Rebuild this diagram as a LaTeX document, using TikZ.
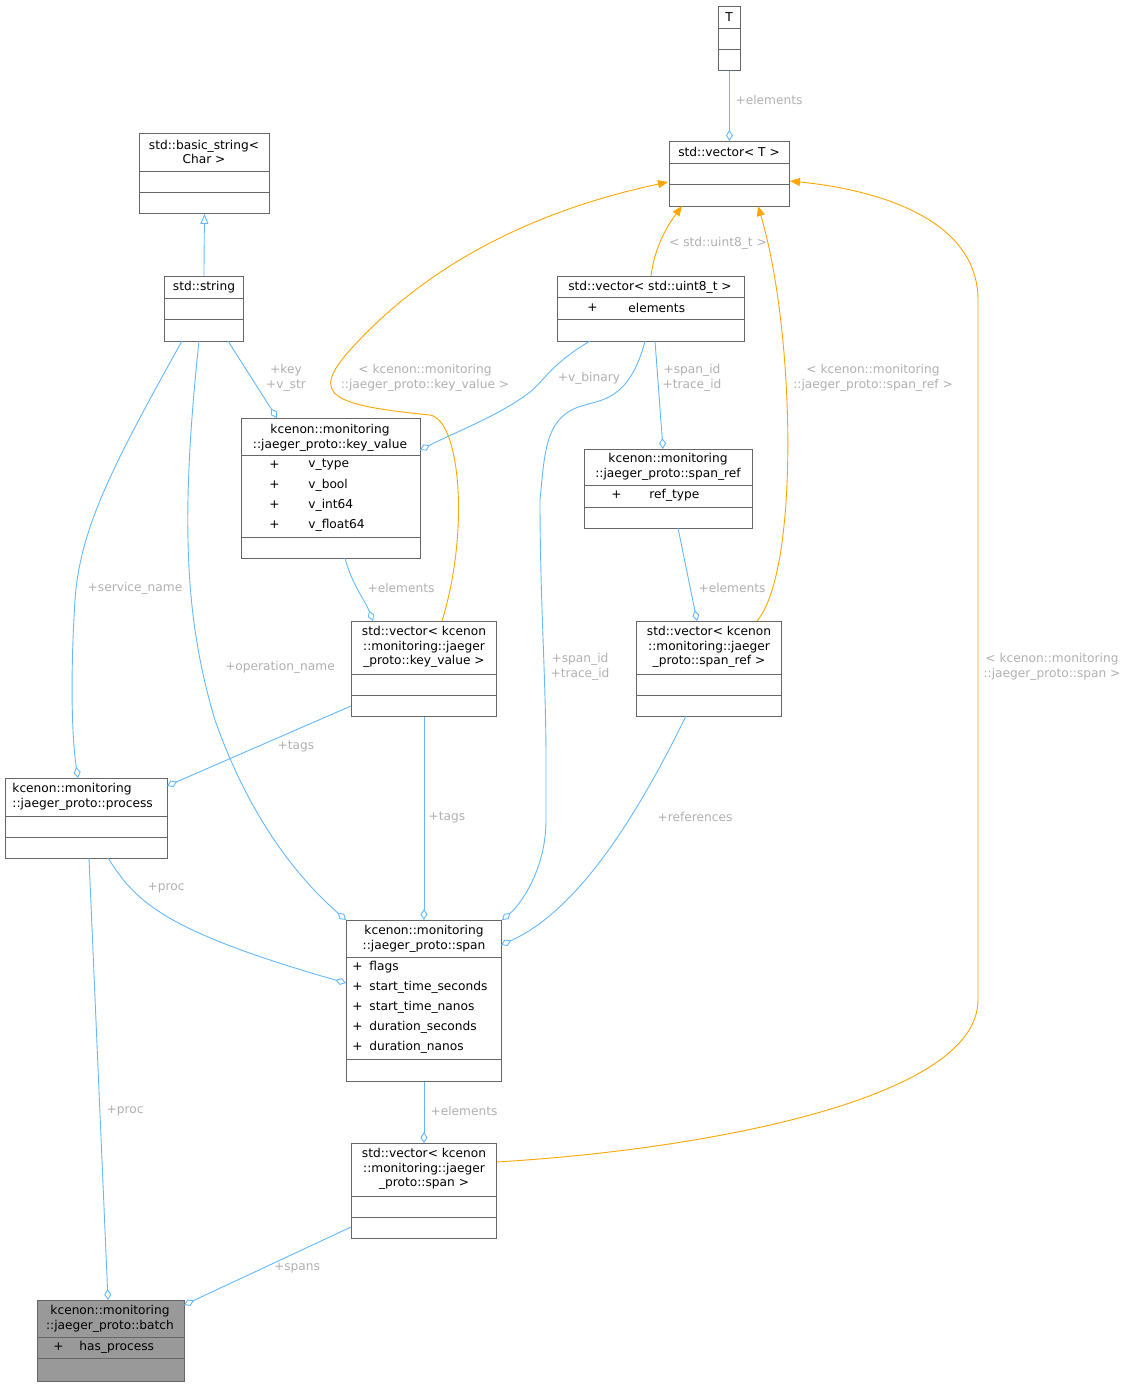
\documentclass[tikz,border=0pt]{standalone}
\usepackage{fontspec}
\setmainfont{DejaVu Sans}
\usetikzlibrary{arrows.meta}
\definecolor{boxc}{HTML}{666666}
\definecolor{edge}{HTML}{63B8FF}
\definecolor{inh}{HTML}{FFA500}
\definecolor{lbl}{HTML}{B0B0B0}
\newcommand\ubox[8]{%
 \node[draw=boxc,fill=#8,inner sep=0,anchor=north west,minimum width={(#4-#2)*1pt},minimum height={(#5-#3)*1pt}] (#1) at (#2,#3) {};
 \draw[boxc] (#2,#6) -- (#4,#6);
 \draw[boxc] (#2,#7) -- (#4,#7);}
\begin{document}
\begin{tikzpicture}[x=1pt,y=-1pt,line width=0.9pt,
 every node/.style={font=\fontsize{12.2}{14.5}\selectfont},
 t/.style={align=center,inner sep=0},
 a/.style={anchor=west,inner sep=0},
 lb/.style={text=lbl,align=center,inner sep=1pt},
 ag/.style={draw=edge,-{Diamond[open,length=11,width=7]}},
 og/.style={draw=inh,-{Triangle[length=10,width=8]},fill=none},
 ih/.style={draw=edge,-{Triangle[open,length=10,width=8]}}]
\path[use as bounding box] (0,0) rectangle (1129,1387);
% boxes
\ubox{T}{718}{6}{740}{70}{28}{49}{white}
\node[t] at (729,17) {T};
\ubox{vecT}{669}{141}{789}{206}{163}{184}{white}
\node[t] at (729,152) {std::vector< T >};
\ubox{bstr}{139}{133}{269}{213}{171}{192}{white}
\node[t] at (204,152) {std::basic\_string<\\Char >};
\ubox{str}{164}{276}{243}{341}{298}{319}{white}
\node[t] at (204,287) {std::string};
\ubox{vu8}{557}{276}{744}{341}{297}{319}{white}
\node[t] at (650,287) {std::vector< std::uint8\_t >};
\node[a] at (587,308) {+}; \node[a] at (628,308) {elements};
\ubox{kv}{241}{418}{420}{558}{455}{537}{white}
\node[t] at (330,438) {kcenon::monitoring\\::jaeger\_proto::key\_value};
\foreach \n[count=\i] in {v\_type,v\_bool,v\_int64,v\_float64}{
 \node[a] at (269,445+\i*20) {+}; \node[a] at (308,445+\i*20) {\n};}
\ubox{sr}{584}{449}{752}{528}{485}{507}{white}
\node[t] at (668,467) {kcenon::monitoring\\::jaeger\_proto::span\_ref};
\node[a] at (611,495) {+}; \node[a] at (649,495) {ref\_type};
\ubox{vkv}{351}{621}{496}{716}{674}{695}{white}
\node[t] at (424,647) {std::vector< kcenon\\::monitoring::jaeger\\\_proto::key\_value >};
\ubox{vsr}{636}{621}{781}{716}{674}{695}{white}
\node[t] at (709,647) {std::vector< kcenon\\::monitoring::jaeger\\\_proto::span\_ref >};
\ubox{proc}{5}{778}{167}{858}{816}{837}{white}
\node[t,align=left,anchor=west] at (12,797) {kcenon::monitoring\\::jaeger\_proto::process};
\ubox{span}{346}{920}{501}{1081}{957}{1059}{white}
\node[t] at (424,939) {kcenon::monitoring\\::jaeger\_proto::span};
\foreach \n[count=\i] in {flags,start\_time\_seconds,start\_time\_nanos,duration\_seconds,duration\_nanos}{
 \node[a] at (352,947+\i*20) {+}; \node[a] at (369,947+\i*20) {\n};}
\ubox{vsp}{351}{1143}{496}{1238}{1196}{1217}{white}
\node[t] at (424,1169) {std::vector< kcenon\\::monitoring::jaeger\\\_proto::span >};
\ubox{batch}{37}{1300}{184}{1381}{1337}{1358}{black!40}
\node[t] at (110,1319) {kcenon::monitoring\\::jaeger\_proto::batch};
\node[a] at (53,1347) {+}; \node[a] at (79,1347) {has\_process};
% edges
\draw[ag] (T.south) -- (vecT.north); \node[lb] at (769,100) {+elements};
\draw[ih] (str.north) -- (bstr.south);
\draw[og] (651,276) .. controls (655,245) and (668,225) .. (682,206);
\node[lb] at (718,243) {< std::uint8\_t >};
\draw[og] (757,621) .. controls (800,570) and (795,330) .. (758,206);
\node[lb] at (873,378) {< kcenon::monitoring\\::jaeger\_proto::span\_ref >};
\draw[og] (442,621) .. controls (470,530) and (460,420) .. (430,415) .. controls (330,405) and (310,395) .. (350,350) .. controls (440,250) and (560,205) .. (668,182);
\node[lb] at (425,378) {< kcenon::monitoring\\::jaeger\_proto::key\_value >};
\draw[og] (vsp.east) ++(0,-29) coordinate (vspe) (vspe) .. controls (700,1150) and (978,1100) .. (978,1000) -- (978,300) .. controls (978,220) and (880,190) .. (790,181);
\node[lb] at (1052,667) {< kcenon::monitoring\\::jaeger\_proto::span >};
\draw[ag] (228,341) -- (277,418); \node[lb] at (286,378) {+key\\+v\_str};
\draw[ag] (590,341) .. controls (550,365) and (545,380) .. (530,392) .. controls (500,415) and (460,430) .. (420,450);
\node[lb] at (589,378) {+v\_binary};
\draw[ag] (655,341) -- (663,449); \node[lb] at (692,378) {+span\_id\\+trace\_id};
\draw[ag] (645,341) .. controls (630,400) and (600,400) .. (585,405) .. controls (545,415) and (545,450) .. (540,500) .. controls (540,600) and (546,680) .. (546,760) -- (546,820) .. controls (546,870) and (520,905) .. (502,920);
\node[lb] at (580,667) {+span\_id\\+trace\_id};
\draw[ag] (345,558) .. controls (352,585) and (365,600) .. (373,621); \node[lb] at (401,588) {+elements};
\draw[ag] (678,528) -- (697,621); \node[lb] at (732,588) {+elements};
\draw[ag] (182,341) .. controls (110,470) and (80,530) .. (75,600) .. controls (70,680) and (72,740) .. (78,778);
\node[lb] at (135,588) {+service\_name};
\draw[ag] (199,341) .. controls (180,520) and (185,620) .. (215,720) .. controls (250,820) and (300,880) .. (346,920);
\node[lb] at (280,667) {+operation\_name};
\draw[ag] (351,706) -- (167,786); \node[lb] at (296,746) {+tags};
\draw[ag] (vkv.south) -- (span.north); \node[lb] at (447,817) {+tags};
\draw[ag] (686,716) .. controls (640,810) and (580,910) .. (501,945); \node[lb] at (695,817) {+references};
\draw[ag] (108,858) .. controls (135,900) and (160,930) .. (346,983); \node[lb] at (166,888) {+proc};
\draw[ag] (span.south) -- (vsp.north); \node[lb] at (464,1111) {+elements};
\draw[ag] (89,858) -- (108,1300); \node[lb] at (125,1111) {+proc};
\draw[ag] (351,1227) -- (184,1305); \node[lb] at (297,1268) {+spans};
\end{tikzpicture}
\end{document}
